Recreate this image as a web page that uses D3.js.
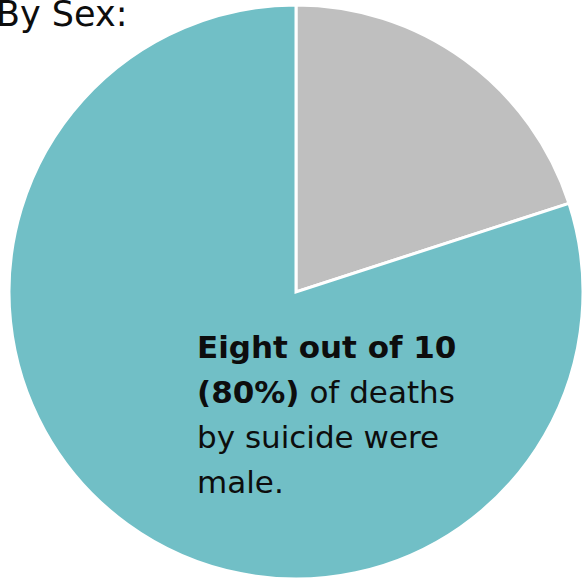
<!DOCTYPE html>
<html><head><meta charset="utf-8">
<script src="https://cdn.jsdelivr.net/npm/d3@7"></script>
<style>html,body{margin:0;padding:0;background:#fff;overflow:hidden}</style>
</head><body>
<svg id="c" width="583" height="580"></svg>
<script>
const categories = ["Female", "Male"];
const values = [20, 80];
const colors = ["#BFBFBF", "#71BFC6"];
const title = "By Sex:";
const noteLines = [
  [{t:"Eight out of 10", b:true}],
  [{t:"(80%)", b:true},{t:" of deaths", b:false}],
  [{t:"by suicide were", b:false}],
  [{t:"male.", b:false}]
];

const svg = d3.select("#c");
const cx = 296, cy = 292, r = 287;
const pie = d3.pie().sort(null).value(d => d)(values);
const arc = d3.arc().innerRadius(0).outerRadius(r);
const g = svg.append("g").attr("transform", `translate(${cx},${cy})`);
g.selectAll("path").data(pie).join("path")
  .attr("d", arc)
  .attr("fill", (d,i) => colors[i])
  .attr("stroke", "#fff").attr("stroke-width", 3).attr("stroke-linejoin","miter");

const font = "'DejaVu Sans', Verdana, sans-serif";
svg.append("text").attr("x", -4).attr("y", 26)
  .attr("font-family", font).attr("font-size", 35).attr("fill", "#0d0d0d")
  .text(title);

const tx = 197, baseY = 358, lh = 45;
noteLines.forEach((line, i) => {
  const t = svg.append("text").attr("x", tx).attr("y", baseY + i*lh)
    .attr("font-family", font).attr("font-size", 31).attr("fill", "#0d0d0d")
    .attr("xml:space","preserve");
  line.forEach(s => t.append("tspan").attr("font-weight", s.b ? "bold" : "normal").text(s.t));
});
</script>
</body></html>
